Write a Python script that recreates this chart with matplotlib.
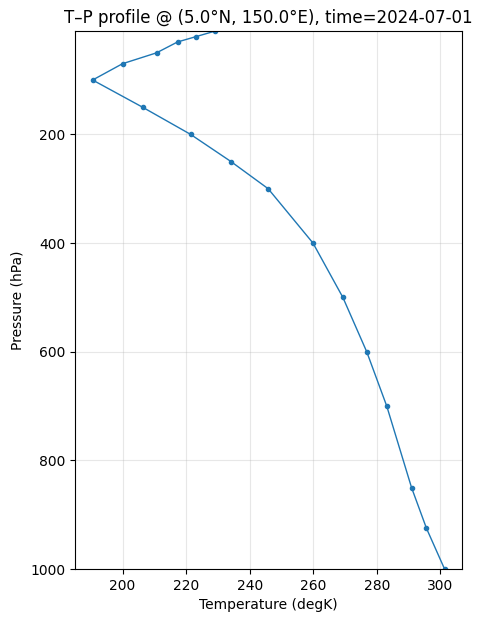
import matplotlib
matplotlib.use("Agg")
import matplotlib.pyplot as plt

pressure = [1000, 925, 850, 700, 600, 500, 400, 300, 250, 200, 150, 100, 70, 50, 30, 20, 10]
temperature = [301.3, 295.6, 290.9, 283.1, 276.8, 269.3, 259.9, 245.8, 234.1, 221.4, 206.3, 190.6, 200.0, 210.7, 217.3, 223.2, 229.1]
title = "T–P profile @ (5.0°N, 150.0°E), time=2024-07-01"

fig = plt.figure(figsize=(4.84, 6.22), dpi=100)
ax = fig.add_axes([0.155, 0.085, 0.80, 0.865])
ax.plot(temperature, pressure, marker="o", markersize=3, linewidth=1, color="#1f77b4")
ax.set_ylim(1000, 10)
ax.set_xlabel("Temperature (degK)")
ax.set_ylabel("Pressure (hPa)")
ax.set_title(title)
ax.grid(True, alpha=0.3)
fig.savefig("out.png", dpi=100)
